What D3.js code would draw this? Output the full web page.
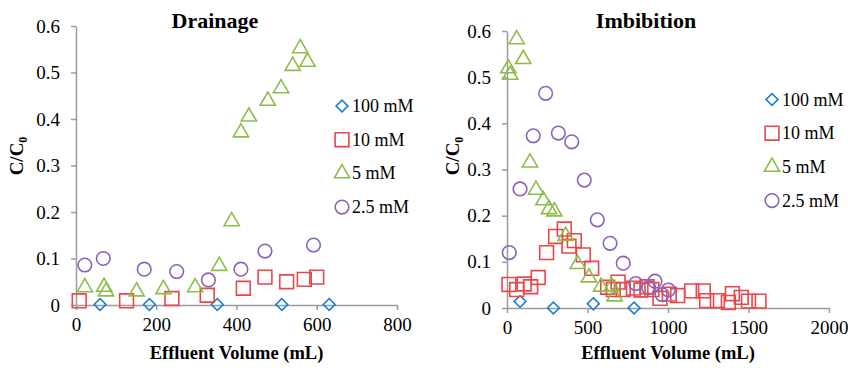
<!DOCTYPE html>
<html lang="en">
<head>
<meta charset="utf-8">
<title>Drainage / Imbibition</title>
<script src="https://cdn.jsdelivr.net/npm/d3@7"></script>
<style>
  body { margin: 0; background: #fff; }
  svg, svg text { font-family: "Liberation Serif", "Times New Roman", Times, serif; }
  .axis path, .axis line { stroke: #9b9b9b; stroke-width: 1.5px; }
  .axis text { font-size: 19px; fill: #000; }
  .mk { fill: none; stroke-width: 1.6px; }
</style>
</head>
<body>
<script>
// series names and colours
const seriesNames = ["100 mM", "10 mM", "5 mM", "2.5 mM"];
const seriesColors = ["#1b7fd1", "#e8474b", "#8cbd48", "#8e63b6"];
const yTicks = [0, 0.1, 0.2, 0.3, 0.4, 0.5, 0.6];
const drainXTicks = [0, 200, 400, 600, 800];
const imbXTicks = [0, 500, 1000, 1500, 2000];

// Drainage: [effluent volume mL, C/C0]
const drain100 = [[60, 0.001], [183, 0.001], [352, 0.001], [513, 0.001], [631, 0.001]];
const drain10 = [[8, 0.009], [126, 0.009], [239, 0.014], [327, 0.021], [417, 0.036],
  [471, 0.06], [525, 0.05], [569, 0.055], [600, 0.06]];
const drain5 = [[22, 0.038], [70, 0.039], [75, 0.029], [151, 0.029], [218, 0.034],
  [297, 0.038], [357, 0.084], [388, 0.18], [411, 0.371], [431, 0.405], [478, 0.439],
  [511, 0.466], [540, 0.514], [559, 0.552], [577, 0.523]];
const drain25 = [[22, 0.086], [68, 0.1], [170, 0.077], [251, 0.072], [330, 0.054],
  [411, 0.077], [471, 0.116], [592, 0.129]];

// Imbibition
const imb100 = [[81, 0.014], [288, 0], [536, 0.009], [789, 0]];
const imb10 = [[12, 0.051], [60, 0.04], [107, 0.052], [147, 0.046], [194, 0.066],
  [246, 0.12], [302, 0.155], [356, 0.171], [385, 0.134], [418, 0.146], [474, 0.115],
  [526, 0.086], [625, 0.045], [660, 0.04], [690, 0.056], [722, 0.04], [785, 0.043],
  [832, 0.039], [870, 0.046], [900, 0.04], [950, 0.021], [1008, 0.03], [1060, 0.027],
  [1147, 0.037], [1219, 0.037], [1240, 0.016], [1307, 0.016], [1375, 0.012],
  [1400, 0.031], [1455, 0.023], [1500, 0.015], [1565, 0.015]];
const imb5 = [[8, 0.519], [20, 0.505], [60, 0.582], [101, 0.539], [143, 0.315],
  [180, 0.256], [226, 0.233], [261, 0.214], [294, 0.209], [364, 0.156], [439, 0.095],
  [509, 0.066], [584, 0.046], [650, 0.046], [668, 0.025]];
const imb25 = [[14, 0.12], [81, 0.258], [163, 0.373], [240, 0.465], [319, 0.379],
  [402, 0.36], [480, 0.277], [561, 0.191], [640, 0.14], [722, 0.097], [800, 0.053],
  [880, 0.044], [919, 0.058], [963, 0.029], [1002, 0.039]];

const svg = d3.select("body").append("svg")
  .attr("width", 848).attr("height", 368);

const shapes = [
  d3.symbol().type(d3.symbolSquare).size(70),   // diamond (rotated)
  d3.symbol().type(d3.symbolSquare).size(190),
  d3.symbol().type(d3.symbolTriangle).size(100),
  null                                            // circle
];

function marker(sel, i) {
  if (i === 3) {
    sel.append("circle").attr("class", "mk").attr("r", 6.8)
      .attr("stroke", seriesColors[i]);
  } else {
    sel.append("path").attr("class", "mk").attr("d", shapes[i]())
      .attr("stroke", seriesColors[i])
      .attr("transform", i === 0 ? "rotate(45)" : null);
  }
}

function panel(cfg) {
  const x = d3.scaleLinear().domain(cfg.xDomain).range(cfg.xRange);
  const y = d3.scaleLinear().domain([0, 0.6]).range(cfg.yRange);

  const g = svg.append("g");

  g.append("g").attr("class", "axis")
    .attr("transform", `translate(0,${cfg.yRange[0]})`)
    .call(d3.axisBottom(x).tickValues(cfg.xTicks).tickSize(5).tickPadding(8)
      .tickFormat(d3.format("d")).tickSizeOuter(0));

  g.append("g").attr("class", "axis")
    .attr("transform", `translate(${cfg.xRange[0]},0)`)
    .call(d3.axisLeft(y).tickValues(yTicks).tickSize(5).tickPadding(11)
      .tickFormat(d => d === 0 ? "0" : d3.format(".1f")(d)).tickSizeOuter(0));

  g.selectAll(".axis").attr("font-family", null);

  // markers, series by series
  cfg.series.forEach((data, i) => {
    g.append("g").selectAll("g")
      .data(data)
      .join("g")
      .attr("transform", d => `translate(${x(d[0])},${y(d[1])})`)
      .each(function () { marker(d3.select(this), i); });
  });

  // titles
  g.append("text")
    .attr("x", cfg.titleX).attr("y", 28)
    .attr("text-anchor", "middle")
    .attr("font-weight", "bold").attr("font-size", 22)
    .text(cfg.title);

  g.append("text")
    .attr("x", (cfg.xRange[0] + cfg.xRange[1]) / 2).attr("y", 359)
    .attr("text-anchor", "middle")
    .attr("font-weight", "bold").attr("font-size", 18.5)
    .text("Effluent Volume (mL)");

  const yl = g.append("text")
    .attr("transform", `translate(${cfg.yLabelX},156) rotate(-90)`)
    .attr("text-anchor", "middle")
    .attr("font-weight", "bold").attr("font-size", 19);
  yl.append("tspan").text("C/C");
  yl.append("tspan").attr("font-size", 12).attr("dy", 4).text("0");

  // legend
  const lg = g.append("g").selectAll("g")
    .data(seriesNames)
    .join("g")
    .attr("transform", (d, i) => `translate(${cfg.legendX},${cfg.legendY + i * 33.7})`);
  lg.each(function (d, i) { marker(d3.select(this), i); });
  lg.append("text")
    .attr("x", 10).attr("y", 6)
    .attr("font-size", 18)
    .text(d => d);
}

panel({
  title: "Drainage", titleX: 215,
  xDomain: [0, 800], xRange: [76, 397], yRange: [305, 26],
  xTicks: drainXTicks, yLabelX: 23,
  legendX: 342, legendY: 106,
  series: [drain100, drain10, drain5, drain25]
});

panel({
  title: "Imbibition", titleX: 646,
  xDomain: [0, 2000], xRange: [507, 829], yRange: [308, 31],
  xTicks: imbXTicks, yLabelX: 459,
  legendX: 772, legendY: 99.5,
  series: [imb100, imb10, imb5, imb25]
});
</script>
</body>
</html>
